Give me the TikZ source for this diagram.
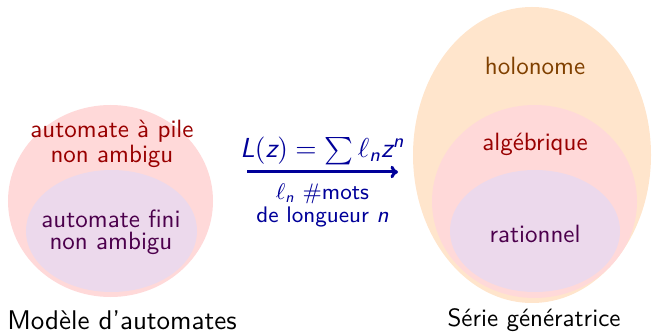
\documentclass[tikz,border=0pt]{standalone}
\usepackage{amsmath}
\usetikzlibrary{arrows.meta, shapes.geometric}
\renewcommand{\familydefault}{\sfdefault}
\newcommand{\sv}[1]{\text{\sffamily\slshape #1}}

\colorlet{pilefill}{red!15}
\colorlet{finifill}{violet!15}
\colorlet{holofill}{orange!20}
\colorlet{piletext}{red!60!black}
\colorlet{finitext}{violet!60!black}
\colorlet{holotext}{orange!50!black}
\colorlet{serieblue}{blue!60!black}

\begin{document}
\begin{tikzpicture}[x=0.4pt, y=-0.4pt,
    zone/.style={ellipse, inner sep=0pt},
    zonetext/.style={align=center, inner sep=0pt, font=\fontsize{10}{8.7}\selectfont}]
    \useasboundingbox (0,0) rectangle (652,332);

    % automates
    \node[zone, fill=pilefill, minimum width=82pt, minimum height=76.8pt] (pile) at (110.5,201) {};
    \node[zone, fill=finifill, minimum width=68.4pt, minimum height=48.8pt] (fini) at (111.5,231) {};
    \node[zonetext, text=piletext] (piletxt) at (112,144) {automate à pile\\non ambigu};
    \node[zonetext, text=finitext] (finitxt) at (111,232) {automate fini\\non ambigu};
    \node[zonetext, font=\fontsize{10.8}{10}\selectfont] (modele) at (122,320) {Modèle d'automates};

    % series
    \node[zone, fill=holofill, minimum width=95.2pt, minimum height=118.4pt] (holo) at (532,155) {};
    \node[zone, fill=pilefill, minimum width=82pt, minimum height=77.2pt] (alg) at (534.5,201.5) {};
    \node[zone, fill=finifill, minimum width=68pt, minimum height=48.8pt] (rat) at (535,231) {};
    \node[zonetext, text=holotext] (holotxt) at (535,66) {holonome};
    \node[zonetext, text=piletext] (algtxt) at (535,144) {algébrique};
    \node[zonetext, text=finitext] (rattxt) at (535,234) {rationnel};
    \node[zonetext] (serie) at (534,320) {Série génératrice};

    % fleche
    \coordinate (gauche) at (247,172);
    \coordinate (droite) at (398,172);
    \draw[serieblue, line width=1.2pt, -{To[length=3pt, width=5pt]}] (gauche) -- (droite)
        node[midway, above=-1pt, text=serieblue, font=\fontsize{11}{12}\selectfont] (formule)
            {$\sv{L}(\sv{z}) = \sum \ell_{\sv{n}} \sv{z}^{\sv{n}}$}
        node[midway, below=1pt, text=serieblue, align=center, font=\fontsize{9}{6.8}\selectfont] (mots)
            {$\ell_{\sv{n}}$ \#mots\\de longueur $\sv{n}$};
\end{tikzpicture}
\end{document}
